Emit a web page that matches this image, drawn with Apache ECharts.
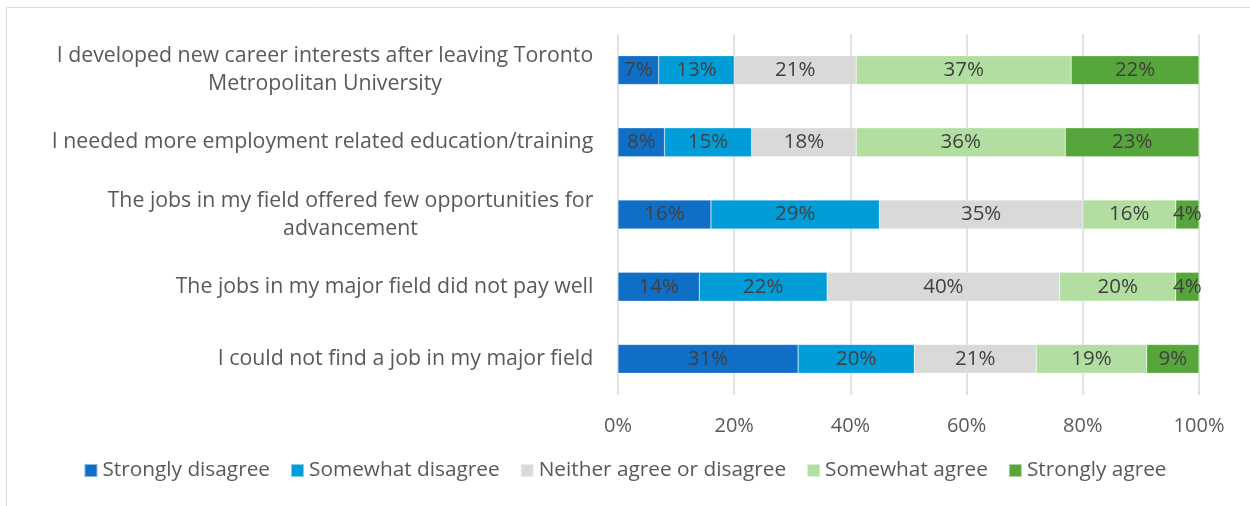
<!DOCTYPE html>
<html>
<head>
<meta charset="utf-8">
<script src="https://cdn.jsdelivr.net/npm/echarts@6/dist/echarts.min.js"></script>
<style>
  html, body { margin: 0; padding: 0; background: #ffffff; }
  #chart { width: 1250px; height: 506px; }
</style>
</head>
<body>
<div id="chart"></div>
<script>
// Survey statements (top to bottom)
const statements = [
  'I developed new career interests after leaving Toronto\nMetropolitan University',
  'I needed more employment related education/training',
  'The jobs in my field offered few opportunities for\nadvancement',
  'The jobs in my major field did not pay well',
  'I could not find a job in my major field'
];

// Response shares, percent, one array per response level
const stronglyDisagree = [7, 8, 16, 14, 31];
const somewhatDisagree = [13, 15, 29, 22, 20];
const neither = [21, 18, 35, 40, 21];
const somewhatAgree = [37, 36, 16, 20, 19];
const stronglyAgree = [22, 23, 4, 4, 9];

const seriesNames = ['Strongly disagree', 'Somewhat disagree', 'Neither agree or disagree', 'Somewhat agree', 'Strongly agree'];
const seriesColors = ['#0F6FC6', '#009DD9', '#D9D9D9', '#B2DFA1', '#57A63B'];
const seriesData = [stronglyDisagree, somewhatDisagree, neither, somewhatAgree, stronglyAgree];

const FONT = '"Open Sans", Lato, sans-serif';
const CAT_SIZE = 21.3;

// Multi-line statements are centred line by line inside a block as wide as
// their longest line; the block itself sits right-aligned against the bars.
const measureCtx = document.createElement('canvas').getContext('2d');
measureCtx.font = CAT_SIZE + 'px ' + FONT;
const catRich = {};
statements.forEach((s, i) => {
  const w = Math.max(...s.split('\n').map(line => measureCtx.measureText(line).width));
  catRich['c' + i] = {
    width: Math.ceil(w) + 1, align: 'center',
    fontFamily: FONT, fontSize: CAT_SIZE, color: '#595959', lineHeight: 28
  };
});

const chart = echarts.init(document.getElementById('chart'), null, { renderer: 'canvas' });

chart.setOption({
  backgroundColor: '#ffffff',
  animation: false,
  textStyle: { fontFamily: FONT },
  graphic: [{
    type: 'rect',
    shape: { x: 6.5, y: 7.5, width: 1300, height: 560 },
    style: { fill: 'none', stroke: '#d9d9d9', lineWidth: 1 },
    silent: true,
    z: -10
  }],
  grid: { left: 618, right: 51, top: 34, bottom: 111, containLabel: false },
  legend: {
    top: 455,
    left: 'center',
    itemWidth: 13,
    itemHeight: 13,
    itemGap: 20,
    icon: 'rect',
    textStyle: { fontFamily: FONT, fontSize: 20.8, color: '#595959' },
    data: seriesNames
  },
  xAxis: {
    type: 'value',
    min: 0,
    max: 100,
    interval: 20,
    axisLine: { show: false },
    axisTick: { show: false },
    axisLabel: { formatter: '{value}%', fontFamily: FONT, fontSize: 20, color: '#595959', margin: 21 },
    splitLine: { show: true, lineStyle: { color: '#d9d9d9', width: 1.5 } }
  },
  yAxis: {
    type: 'category',
    inverse: true,
    data: statements,
    axisLine: { show: false },
    axisTick: { show: false },
    axisLabel: {
      margin: 24,
      align: 'right',
      formatter: (value, index) =>
        value.split('\n').map(line => '{c' + index + '|' + line + '}').join('\n'),
      rich: catRich
    }
  },
  series: seriesNames.map((name, i) => ({
    name: name,
    type: 'bar',
    stack: 'total',
    barWidth: '40%',
    data: seriesData[i],
    itemStyle: { color: seriesColors[i], borderColor: 'rgba(255,255,255,0.5)', borderWidth: 0.5 },
    label: {
      show: true,
      position: 'inside',
      formatter: '{c}%',
      fontFamily: FONT,
      fontSize: 20.5,
      color: '#404040'
    }
  }))
});
</script>
</body>
</html>
